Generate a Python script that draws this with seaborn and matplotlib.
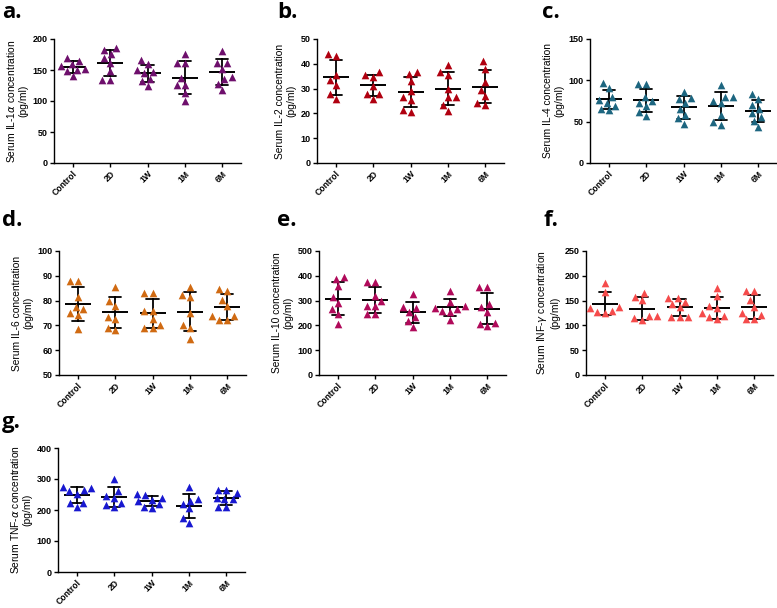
import pandas as pd
import numpy as np
import matplotlib
matplotlib.use('Agg')
import matplotlib.pyplot as plt
import seaborn as sns

sns.set_style('ticks')
plt.rcParams['font.family'] = ['Liberation Sans', 'DejaVu Sans']
for k in ['text.color', 'axes.labelcolor', 'xtick.color', 'ytick.color', 'axes.edgecolor']:
    plt.rcParams[k] = 'black'

groups = ['Control', '2D', '1W', '1M', '6M']

# values, one list per group
il1a = [[164, 169, 159, 156, 152, 149, 150, 140],
        [183, 186, 170, 176, 162, 148, 134, 134],
        [166, 159, 150, 147, 145, 136, 133, 124],
        [176, 162, 162, 137, 126, 126, 113, 100],
        [181, 162, 161, 152, 138, 136, 128, 118]]
il2 = [[44, 43, 35.5, 33.5, 31.5, 28, 26],
       [36.5, 35.4, 34.5, 31, 27.9, 27.9, 25.7],
       [36.5, 36, 33, 29, 26.5, 25.5, 21.5, 20.5],
       [39.5, 36.5, 35.5, 30, 26.5, 26.5, 23.5, 21],
       [41, 38, 32.5, 29.5, 27, 23.5, 24]]
il4 = [[97, 91, 80, 76, 73, 69, 64, 65],
       [95, 95, 80, 75, 72, 69, 62, 57],
       [86, 79, 77, 72, 65, 58, 54, 47],
       [94, 80, 80, 75, 72, 58, 49, 46],
       [83, 77, 70, 65, 60, 56, 51, 43]]
il6 = [[88, 88, 81.4, 77.6, 76.5, 75.2, 74.3, 68.5],
       [85.5, 80, 78, 73.5, 72.5, 69, 68],
       [83, 83, 76, 76, 72.5, 70, 69, 69],
       [85.4, 82.3, 81.4, 75.2, 70.2, 68.9, 64.5],
       [84.6, 84, 80.3, 78, 73.6, 73.6, 72.2, 72.2]]
il10 = [[394, 387, 357, 314, 290, 268, 247, 206],
        [377, 377, 319, 300, 279, 279, 245, 245],
        [327, 273, 270, 255, 233, 218, 193],
        [340, 296, 280, 272, 268, 258, 255, 220],
        [354, 354, 287, 276, 255, 209, 206, 196]]
infg = [[186, 168, 138, 135, 129, 127, 125],
        [166, 157, 151, 119, 119, 111, 115],
        [156, 156, 148, 143, 137, 117, 117, 117],
        [176, 160, 140, 136, 124, 118, 117, 113],
        [170, 170, 151, 138, 125, 120, 112, 112]]
tnfa = [[275, 270, 265, 262, 252, 222, 224, 210],
        [300, 262, 245, 240, 222, 215, 210],
        [252, 248, 240, 232, 228, 218, 210, 207],
        [273, 234, 230, 220, 205, 175, 157],
        [266, 263, 255, 240, 234, 234, 210, 210]]

W, H = 777, 608
fig = plt.figure(figsize=(W / 100, H / 100), dpi=100)

# letter, data, colour, label, ylim, step, left px, top px, letter x, letter baseline
panels = [
    ('a.', il1a, '#6e0f6c', r'Serum IL-1$\alpha$ concentration', (0, 200), 50, 54, 39, 2, 18),
    ('b.', il2, '#b00010', 'Serum IL-2 concentration', (0, 50), 10, 317, 39, 277, 18),
    ('c.', il4, '#1d6680', 'Serum IL-4 concentration', (0, 150), 50, 590, 39, 542, 18),
    ('d.', il6, '#d06a12', 'Serum IL-6 concentration', (50, 100), 10, 59, 251, 2, 226),
    ('e.', il10, '#b00a5a', 'Serum IL-10 concentration', (0, 500), 100, 319, 251, 277, 226),
    ('f.', infg, '#f54b4b', r'Serum INF-$\gamma$ concentration', (0, 250), 50, 586, 251, 543, 226),
    ('g.', tnfa, '#1818d0', r'Serum TNF-$\alpha$ concentration', (0, 400), 100, 58, 448, 2, 428),
]

for letter, vals, col, lab, ylim, step, lpx, tpx, lx, ly in panels:
    df = pd.DataFrame([(g, v) for g, vs in zip(groups, vals) for v in vs],
                      columns=['group', 'value'])
    ax = fig.add_axes([lpx / W, (H - tpx - 124) / H, 187 / W, 124 / H])
    sns.swarmplot(data=df, x='group', y='value', order=groups, marker='^',
                  color=col, size=5.5, linewidth=0, ax=ax)
    sns.pointplot(data=df, x='group', y='value', order=groups, errorbar='sd',
                  capsize=0.33, color='black', marker='_', markersize=19,
                  markeredgewidth=1.4, linestyle='none',
                  err_kws={'linewidth': 1.3}, ax=ax)
    ax.set_xlim(-0.5, 4.5)
    ax.set_ylim(*ylim)
    ax.set_yticks(np.arange(ylim[0], ylim[1] + 1, step))
    ax.set_xlabel('')
    ax.set_ylabel(lab + '\n(pg/ml)', fontsize=7.4, labelpad=3)
    sns.despine(ax=ax)
    for s in ['left', 'bottom']:
        ax.spines[s].set_linewidth(1.0)
    ax.tick_params(axis='both', length=3, width=1.0, pad=1.5)
    for t in ax.get_yticklabels():
        t.set_fontsize(6.5)
        t.set_fontweight('bold')
    for t in ax.get_xticklabels():
        t.set_fontsize(6.2)
        t.set_fontweight('bold')
        t.set_rotation(45)
        t.set_ha('right')
        t.set_rotation_mode('anchor')
    fig.text(lx / W, 1 - ly / H, letter, fontsize=16, fontweight='bold',
             family=['Open Sans', 'DejaVu Sans'], va='baseline', ha='left')

fig.savefig('out.png', dpi=100)
